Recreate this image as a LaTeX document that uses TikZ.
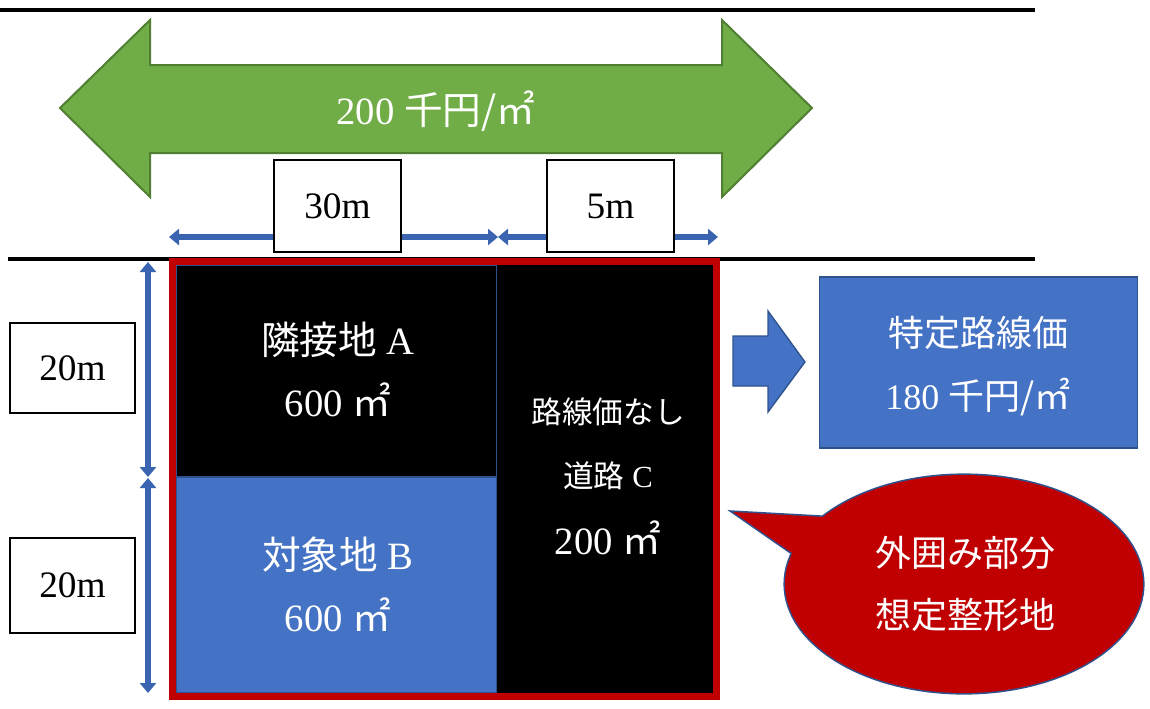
\documentclass[tikz,border=0pt]{standalone}
\usepackage{fontspec}
\setmainfont{Liberation Serif}
\newfontfamily\cjk{Noto Sans CJK JP}
\usetikzlibrary{arrows.meta}
\definecolor{grn}{HTML}{70AD47}
\definecolor{grnb}{HTML}{507E32}
\definecolor{blu}{HTML}{4472C4}
\definecolor{blub}{HTML}{2F528F}
\definecolor{dimc}{HTML}{3A64B0}
\definecolor{rd}{HTML}{C00000}
\begin{document}
\begin{tikzpicture}[x=0.75pt,y=-0.75pt,
  rule/.style={line width=3pt,black},
  dimarrow/.style={draw=dimc,line width=4.4pt,{Triangle[length=7.5pt,width=12pt]}-{Triangle[length=7.5pt,width=12pt]}},
  labelbox/.style={draw=black,line width=1.6pt,fill=white,inner sep=0pt,font=\fontsize{28}{32}\selectfont},
  wtxt/.style={text=white,inner sep=0pt,font=\fontsize{29}{32}\selectfont},
  wtxtsm/.style={text=white,inner sep=0pt,font=\fontsize{23}{28}\selectfont},
  wtxtmd/.style={text=white,inner sep=0pt,font=\fontsize{27}{32}\selectfont},
  region/.style={draw=blub,line width=0.8pt,inner sep=0pt}
]
\useasboundingbox (0,0) rectangle (1150,708);

% horizontal rules
\coordinate (r1a) at (0,10);
\coordinate (r1b) at (1035,10);
\coordinate (r2a) at (8,259);
\coordinate (r2b) at (1035,259);
\draw[rule] (r1a) -- (r1b);
\draw[rule] (r2a) -- (r2b);

% green double arrow
\draw[fill=grn,draw=grnb,line width=1.5pt,line join=miter]
  (60,108) -- (150,20) -- (150,65) -- (722,65) -- (722,20) -- (812,108)
  -- (722,197) -- (722,153) -- (150,153) -- (150,197) -- cycle;
\node[wtxt] (price) at (436,111) {200 {\cjk 千円/㎡}};

% dimension arrows
\coordinate (h1) at (169,237);
\coordinate (h2) at (498,237);
\coordinate (h3) at (718,237);
\draw[dimarrow] (h1) -- (h2);
\draw[dimarrow] (h2) -- (h3);
\coordinate (v1) at (148,262);
\coordinate (v2a) at (148,477);
\coordinate (v2b) at (148,478);
\coordinate (v3) at (148,693);
\draw[dimarrow] (v1) -- (v2a);
\draw[dimarrow] (v2b) -- (v3);

% dimension label boxes
\node[labelbox,minimum width=127*0.75pt,minimum height=92*0.75pt] (d30) at (337.5,206) {30m};
\node[labelbox,minimum width=127*0.75pt,minimum height=92*0.75pt] (d5) at (610.5,206) {5m};
\node[labelbox,minimum width=125*0.75pt,minimum height=90*0.75pt] (d20a) at (72.5,368) {20m};
\node[labelbox,minimum width=125*0.75pt,minimum height=95*0.75pt] (d20b) at (72.5,585.5) {20m};

% land regions
\node[region,fill=black,minimum width=321*0.75pt,minimum height=212*0.75pt] (regA) at (336.5,371) {};
\node[region,fill=blu,minimum width=321*0.75pt,minimum height=216*0.75pt] (regB) at (336.5,585) {};
\node[region,fill=black,draw=black,minimum width=216*0.75pt,minimum height=428*0.75pt] (regC) at (605,479) {};
\draw[blub,line width=1pt] (regC.north west) -- (regC.south west);
\draw[rd,line width=5.25pt] (172,261) rectangle (716,696);

\node[wtxt] (tA1) at (338,340) {{\cjk 隣接地} A};
\node[wtxt] (tA2) at (338,400) {600 {\cjk ㎡}};
\node[wtxt] (tB1) at (338,555) {{\cjk 対象地} B};
\node[wtxt] (tB2) at (338,615) {600 {\cjk ㎡}};
\node[wtxtsm] (tC1) at (608,412) {\cjk 路線価なし};
\node[wtxtsm] (tC2) at (608,476) {{\cjk 道路} C};
\node[wtxt] (tC3) at (608,538) {200 {\cjk ㎡}};

% right block arrow
\draw[fill=blu,draw=blub,line width=1pt,line join=miter]
  (733,336) -- (768,336) -- (768,311) -- (805,362) -- (768,412) -- (768,386) -- (733,386) -- cycle;

% specific route price box
\node[region,fill=blu,minimum width=318*0.75pt,minimum height=171*0.75pt] (spec) at (978.5,362.5) {};
\node[wtxtmd] (tS1) at (978,333) {\cjk 特定路線価};
\node[wtxtmd] (tS2) at (978,397) {180 {\cjk 千円/㎡}};

% speech bubble
\coordinate (tail) at (733,512);
\draw[blub,line width=2.4pt,line join=miter] (tail) -- (823,517) -- (792,553) -- cycle;
\draw[blub,line width=2.4pt] (964,584) ellipse [x radius=179, y radius=109];
\fill[rd] (tail) -- (823,517) -- (792,553) -- cycle;
\fill[rd] (964,584) ellipse [x radius=179, y radius=109];
\fill[rd] (812,528) -- (823,517) -- (800,570) -- (792,553) -- cycle;
\node[wtxtmd] (tE1) at (965,553) {\cjk 外囲み部分};
\node[wtxtmd] (tE2) at (965,615) {\cjk 想定整形地};
\end{tikzpicture}
\end{document}
